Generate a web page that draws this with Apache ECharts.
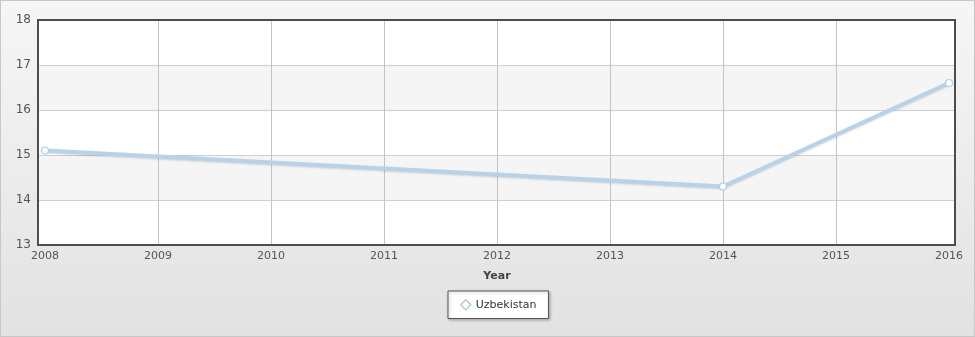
<!DOCTYPE html>
<html>
<head>
<meta charset="utf-8">
<script src="https://cdn.jsdelivr.net/npm/echarts@6/dist/echarts.min.js"></script>
<style>
html,body{margin:0;padding:0;}
#c{width:975px;height:337px;box-sizing:border-box;border:1px solid #c8c8c8;background:linear-gradient(#f6f6f6,#e2e2e2);}
</style>
</head>
<body>
<div id="c"></div>
<script>
const years = [2008, 2014, 2016];
const values = [15.1, 14.3, 16.6];
const seriesName = 'Uzbekistan';
const xName = 'Year';
const yMin = 13, yMax = 18, yStep = 1;
const xMin = 2008, xMax = 2016, xStep = 1;

const chart = echarts.init(document.getElementById('c'), null, {renderer: 'canvas'});
const font = 'DejaVu Sans, Verdana, sans-serif';
chart.setOption({
  animation: false,
  textStyle: {fontFamily: font},
  grid: [
    {left: 37, right: 19, top: 19, bottom: 91, show: true, borderColor: '#4d4d4d', borderWidth: 2, backgroundColor: 'transparent', z: 5},
    {left: 44, right: 25, top: 19, bottom: 91}
  ],
  xAxis: [
    {gridIndex: 0, type: 'value', min: 0, max: 1, show: false},
    {gridIndex: 1, type: 'value', min: xMin, max: xMax, interval: xStep,
     name: xName, nameLocation: 'middle', nameGap: 26,
     nameTextStyle: {fontWeight: 'bold', color: '#444', fontSize: 11, fontFamily: font},
     axisLine: {show: false}, axisTick: {show: false},
     axisLabel: {color: '#555', fontSize: 11, margin: 6, fontFamily: font, formatter: v => String(v)},
     splitLine: {show: true, showMinLine: false, showMaxLine: false, lineStyle: {color: '#c4c4c4', width: 1}}}
  ],
  yAxis: [
    {gridIndex: 0, type: 'value', min: yMin, max: yMax, interval: yStep,
     axisLine: {show: false}, axisTick: {show: false},
     axisLabel: {color: '#555', fontSize: 12, margin: 7, fontFamily: font},
     splitLine: {show: true, lineStyle: {color: '#cfcfcf', width: 1}},
     splitArea: {show: true, areaStyle: {color: ['#ffffff', '#f5f5f5']}}},
    {gridIndex: 1, type: 'value', min: yMin, max: yMax, show: false}
  ],
  legend: {
    left: 447, top: 290,
    backgroundColor: '#ffffff', borderColor: '#555', borderWidth: 1,
    padding: [8, 12, 8, 12],
    shadowColor: 'rgba(0,0,0,0.25)', shadowBlur: 3, shadowOffsetX: 1, shadowOffsetY: 1,
    itemWidth: 10, itemHeight: 10, itemGap: 6,
    textStyle: {color: '#333', fontSize: 11, fontFamily: font},
    data: [{name: seriesName, icon: 'diamond', itemStyle: {color: '#ffffff', borderColor: '#aecde6', borderWidth: 1.5}}]
  },
  series: [{
    name: seriesName, type: 'line', xAxisIndex: 1, yAxisIndex: 1,
    data: years.map((y, i) => [y, values[i]]),
    symbol: 'circle', symbolSize: 7,
    itemStyle: {color: '#ffffff', borderColor: '#aecde6', borderWidth: 1.2},
    lineStyle: {color: '#b8d3e9', width: 4, shadowColor: 'rgba(0,0,0,0.15)', shadowBlur: 2, shadowOffsetY: 1},
    z: 3
  }]
});
</script>
</body>
</html>
